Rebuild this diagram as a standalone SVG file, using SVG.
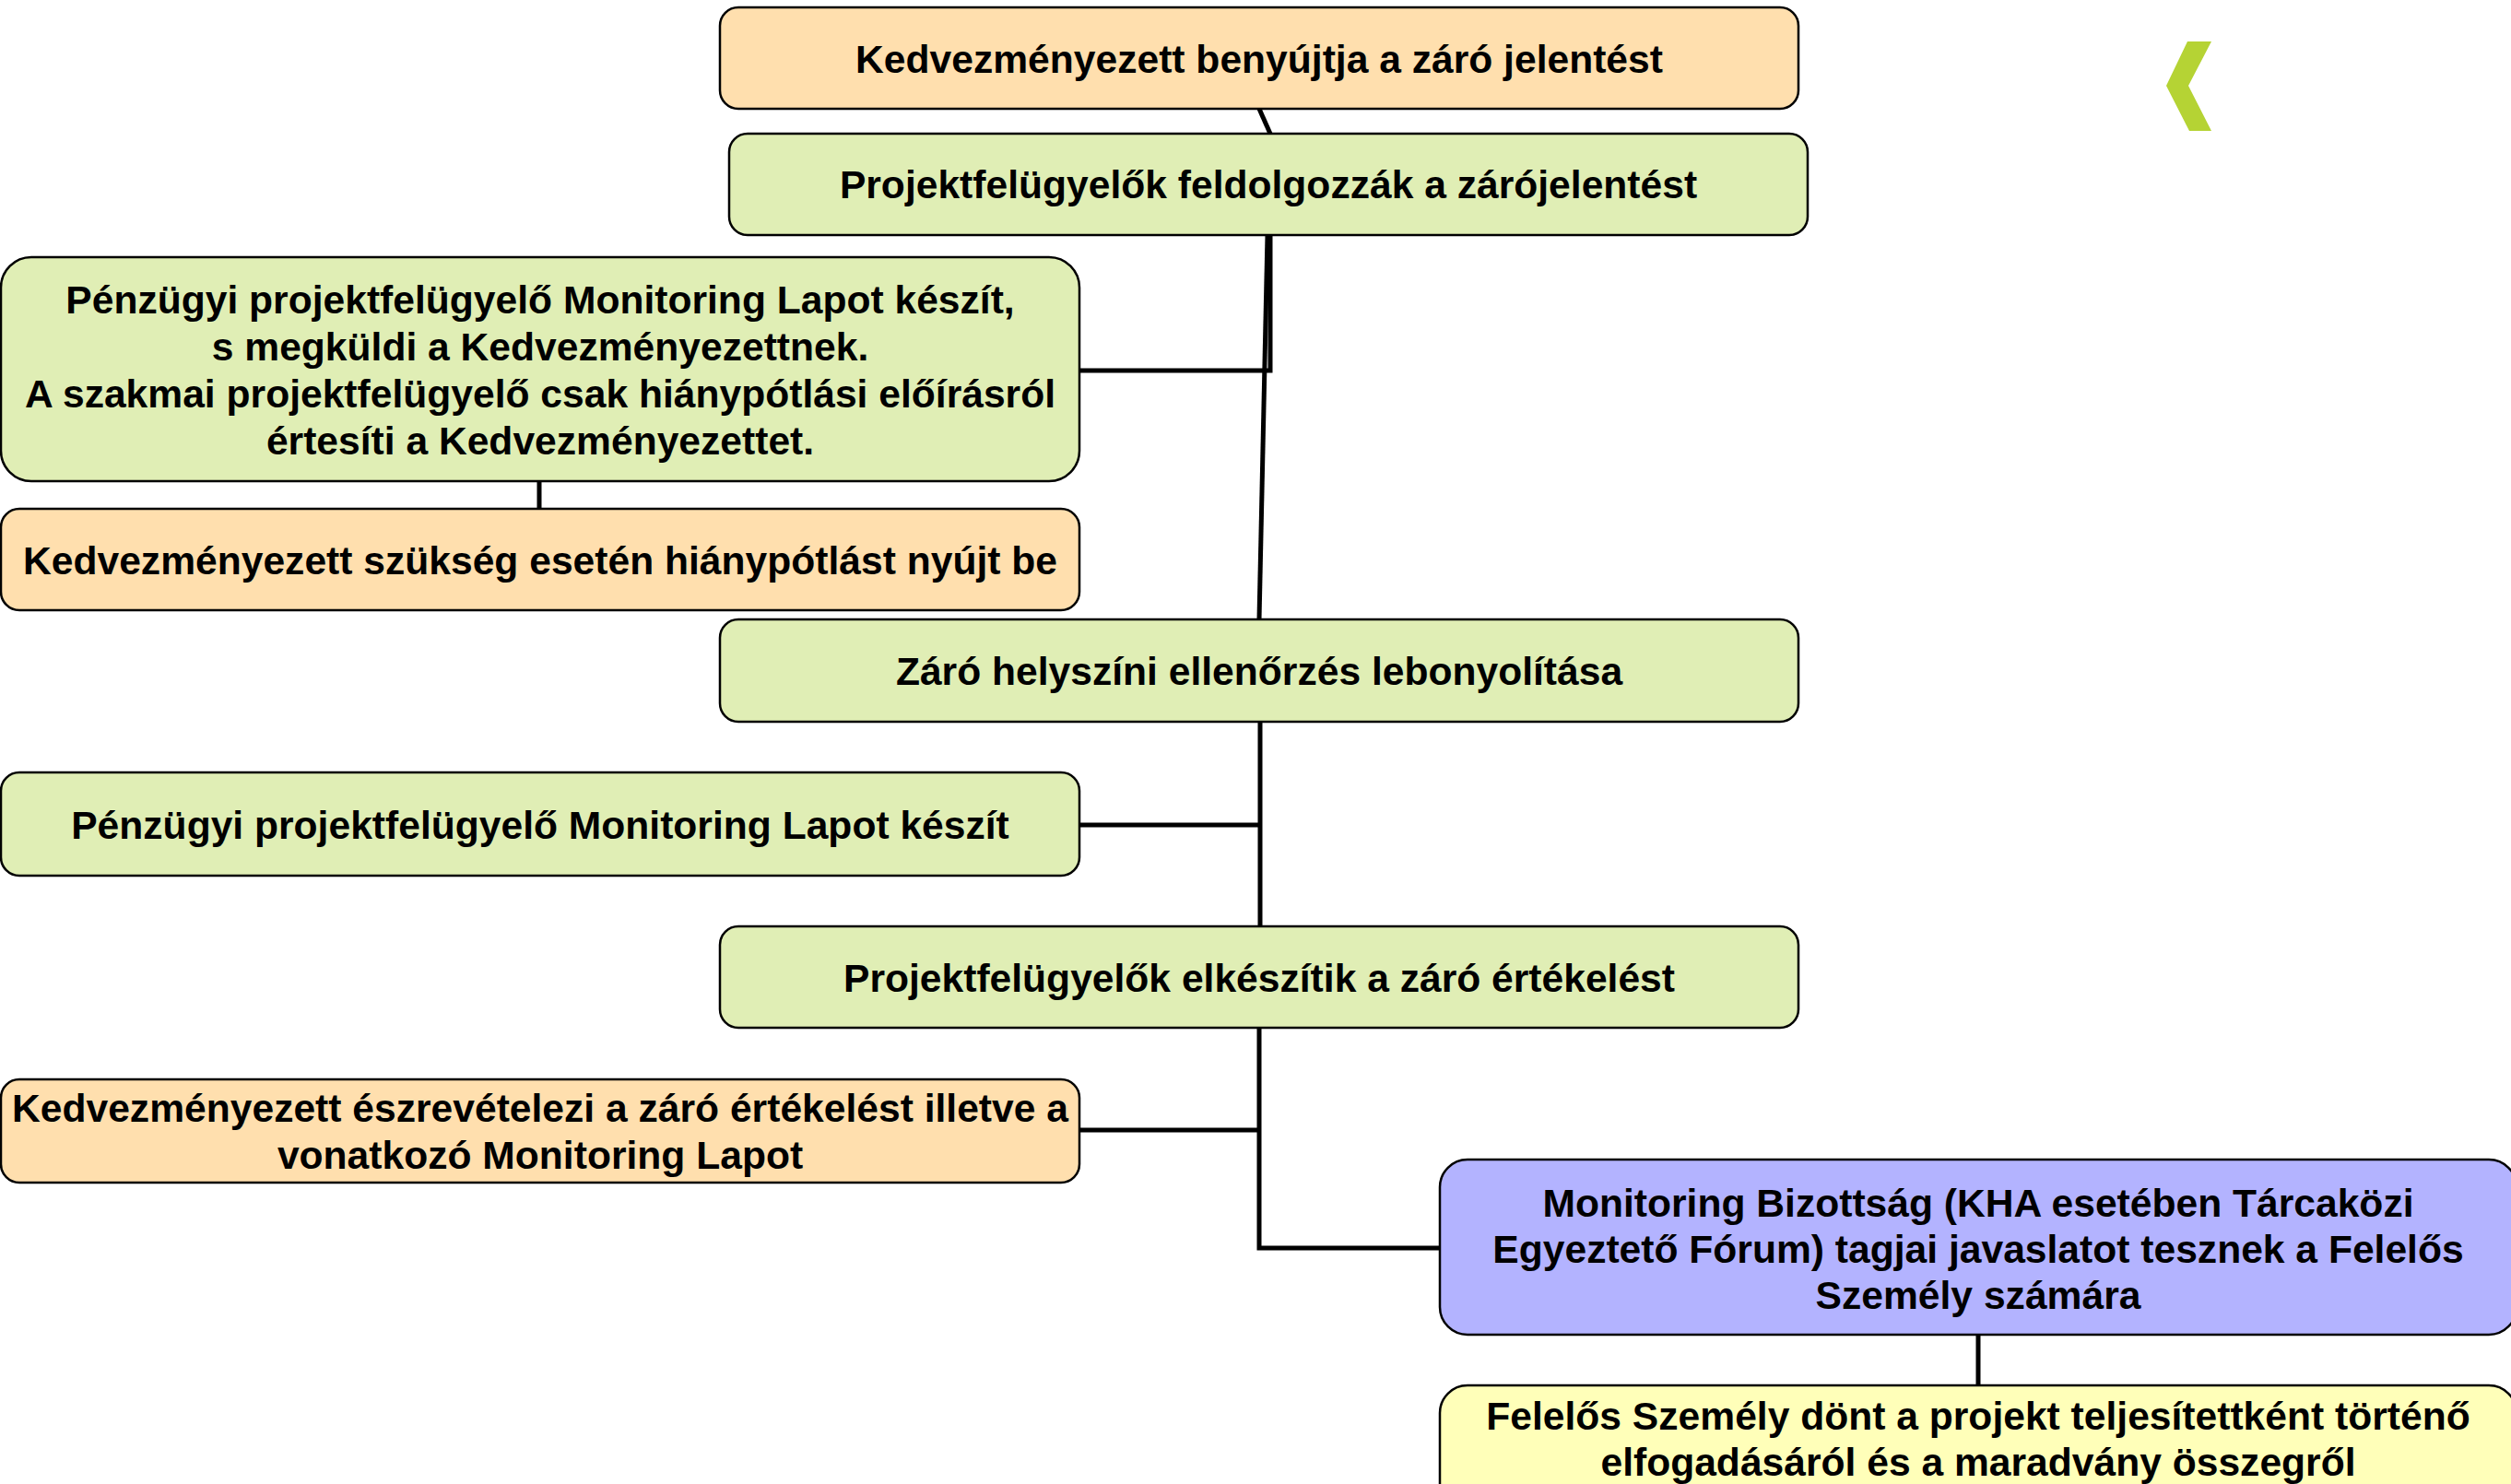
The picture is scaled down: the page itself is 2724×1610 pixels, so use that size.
<svg xmlns="http://www.w3.org/2000/svg" width="2724" height="1610" viewBox="0 0 2724 1610">
<style>
.box{stroke:#000;stroke-width:2.5}
.or{fill:#FFDFAE}
.gr{fill:#E0EEB5}
.bl{fill:#B3B3FF}
.ye{fill:#FFFFB9}
text{font-family:"Liberation Sans",Arial,sans-serif;font-weight:bold;font-size:42.6px;fill:#000;text-anchor:middle}
.conn{fill:none;stroke:#000;stroke-width:5}
</style>
<rect width="2724" height="1610" fill="#fff"/>
<polygon points="2373,45 2399,45 2374,93 2399,142 2375,142 2350,93" fill="#B5D334"/>
<g id="connectors">
<path class="conn" d="M1366 118 L1378 145" stroke-width="4"/>
<path class="conn" d="M1378 255 V402 H1171"/>
<path class="conn" d="M1375 255 L1366 672"/>
<path class="conn" d="M585 522 V552" stroke-width="4"/>
<path class="conn" d="M1367 783 V1005"/>
<path class="conn" d="M1367 895 H1171"/>
<path class="conn" d="M1366 1115 V1354 H1562"/>
<path class="conn" d="M1366 1226 H1171"/>
<path class="conn" d="M2146 1448 V1503" stroke-width="4"/>
</g>
<g id="n1"><rect class="box or" x="781" y="8" width="1170" height="110" rx="20"/><text x="1366" y="79">Kedvezményezett benyújtja a záró jelentést</text></g>
<g id="n2"><rect class="box gr" x="791" y="145" width="1170" height="110" rx="20"/><text x="1376" y="215">Projektfelügyelők feldolgozzák a zárójelentést</text></g>
<g id="n3"><rect class="box gr" x="1" y="279" width="1170" height="243" rx="33"/><text x="586" y="340">Pénzügyi projektfelügyelő Monitoring Lapot készít,</text><text x="586" y="391">s megküldi a Kedvezményezettnek.</text><text x="586" y="442">A szakmai projektfelügyelő csak hiánypótlási előírásról</text><text x="586" y="493">értesíti a Kedvezményezettet.</text></g>
<g id="n4"><rect class="box or" x="1" y="552" width="1170" height="110" rx="20"/><text x="586" y="623">Kedvezményezett szükség esetén hiánypótlást nyújt be</text></g>
<g id="n5"><rect class="box gr" x="781" y="672" width="1170" height="111" rx="20"/><text x="1366" y="743">Záró helyszíni ellenőrzés lebonyolítása</text></g>
<g id="n6"><rect class="box gr" x="1" y="838" width="1170" height="112" rx="20"/><text x="586" y="910">Pénzügyi projektfelügyelő Monitoring Lapot készít</text></g>
<g id="n7"><rect class="box gr" x="781" y="1005" width="1170" height="110" rx="20"/><text x="1366" y="1076">Projektfelügyelők elkészítik a záró értékelést</text></g>
<g id="n8"><rect class="box or" x="1" y="1171" width="1170" height="112" rx="20"/><text x="586" y="1217">Kedvezményezett észrevételezi a záró értékelést illetve a</text><text x="586" y="1268">vonatkozó Monitoring Lapot</text></g>
<g id="n9"><rect class="box bl" x="1562" y="1258" width="1168" height="190" rx="30"/><text x="2146" y="1320">Monitoring Bizottság (KHA esetében Tárcaközi</text><text x="2146" y="1370">Egyeztető Fórum) tagjai javaslatot tesznek a Felelős</text><text x="2146" y="1420">Személy számára</text></g>
<g id="n10"><rect class="box ye" x="1562" y="1503" width="1168" height="140" rx="30"/><text x="2146" y="1551">Felelős Személy dönt a projekt teljesítettként történő</text><text x="2146" y="1601">elfogadásáról és a maradvány összegről</text></g>
</svg>
